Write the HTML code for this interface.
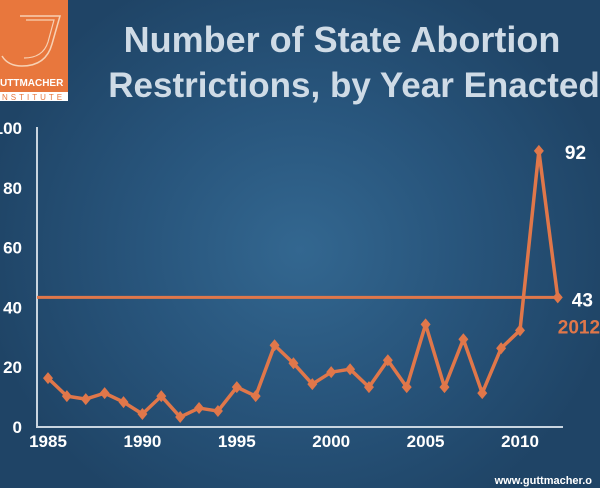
<!DOCTYPE html>
<html><head><meta charset="utf-8"><style>
body{margin:0;width:600px;height:488px;overflow:hidden;font-family:"Liberation Sans",sans-serif;}
#bg{position:absolute;left:0;top:0;width:600px;height:488px;background:radial-gradient(ellipse 320px 300px at 300px 250px,#336790 0%,#28557c 50%,#1f4466 100%);}
</style></head><body>
<div id="bg"></div>
<svg width="600" height="488" style="position:absolute;left:0;top:0">
<g>
<rect x="0" y="0" width="68" height="100" fill="#e8773d"/>
<path d="M20 16 h40 l-8 28 q-6 22 -30 22 q-14 0 -20 -10" fill="none" stroke="#f7d1b4" stroke-width="1.5"/>
<path d="M26 20 h28 l-6 22 q-5 16 -24 16" fill="none" stroke="#f7d1b4" stroke-width="1.2"/>
<text x="0" y="86" font-size="10" font-weight="bold" fill="#fff">UTTMACHER</text>
<rect x="0" y="92" width="68" height="9" fill="#fff"/>
<text x="2" y="100" font-size="8" fill="#e8773d" letter-spacing="3">NSTITUTE</text>
</g>
<text x="342" y="52" text-anchor="middle" font-size="36" font-weight="bold" fill="#cfdbe6">Number of State Abortion</text>
<text x="354" y="97" text-anchor="middle" font-size="35" font-weight="bold" fill="#cfdbe6">Restrictions, by Year Enacted</text>
<g id="plot"></g>
<text x="592" y="484" text-anchor="end" font-size="11" font-weight="bold" fill="#fff">www.guttmacher.o</text>
</svg>
<script>
const years=[1985,1986,1987,1988,1989,1990,1991,1992,1993,1994,1995,1996,1997,1998,1999,2000,2001,2002,2003,2004,2005,2006,2007,2008,2009,2010,2011,2012];
const values=[16,10,9,11,8,4,10,3,6,5,13,10,27,21,14,18,19,13,22,13,34,13,29,11,26,32,92,43];
const yTicks=[0,20,40,60,80,100];
const xTicks=[1985,1990,1995,2000,2005,2010];
const refValue=43;
const NS="http://www.w3.org/2000/svg";
const g=document.getElementById('plot');
const X=y=>48+(y-1985)*18.88;
const Y=v=>426-v*2.99;
function mk(t,a){const e=document.createElementNS(NS,t);for(const k in a)e.setAttribute(k,a[k]);g.appendChild(e);return e;}
let e;
e=mk('line',{x1:37,y1:127,x2:37,y2:427,stroke:'#c9d5e0','stroke-width':2});


e=mk('line',{x1:36,y1:427,x2:563,y2:427,stroke:'#c9d5e0','stroke-width':2});


yTicks.forEach(v=>{e=mk('text',{x:22,y:Y(v)+7,'text-anchor':'end','font-size':17,'font-weight':'bold',fill:'#fff'});e.textContent=v;

});
xTicks.forEach(v=>{e=mk('text',{x:X(v),y:447,'text-anchor':'middle','font-size':17,'font-weight':'bold',fill:'#fff'});e.textContent=v;

});
e=mk('line',{x1:37,y1:Y(refValue),x2:558,y2:Y(refValue),stroke:'#e0774a','stroke-width':3});


e=mk('polyline',{points:years.map((y,i)=>X(y)+','+Y(values[i])).join(' '),fill:'none',stroke:'#e0774a','stroke-width':3.5,'stroke-linejoin':'round'});


years.forEach((y,i)=>{const cx=X(y),cy=Y(values[i]);e=mk('polygon',{points:`${cx},${cy-6} ${cx+5},${cy} ${cx},${cy+6} ${cx-5},${cy}`,fill:'#e0774a'});

});
e=mk('text',{x:X(2011)+26,y:Y(values[26])+8,'font-size':19,'font-weight':'bold',fill:'#fff'});e.textContent=values[26];


e=mk('text',{x:X(2012)+14,y:Y(values[27])+9,'font-size':19,'font-weight':'bold',fill:'#fff'});e.textContent=values[27];


e=mk('text',{x:X(2012)+0,y:Y(values[27])+36,'font-size':19,'font-weight':'bold',fill:'#e0774a'});e.textContent='2012';


</script>
</body></html>
